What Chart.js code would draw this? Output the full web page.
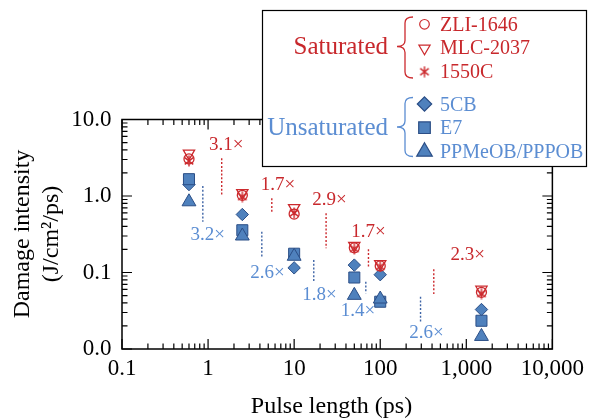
<!DOCTYPE html>
<html><head><meta charset="utf-8">
<script src="https://cdn.jsdelivr.net/npm/chart.js@4.4.1/dist/chart.umd.min.js"></script>
<style>html,body{margin:0;padding:0;background:#fff;}#wrap{position:relative;width:590px;height:418px;}</style>
</head><body><div id="wrap"><canvas id="c" width="590" height="418"></canvas></div>
<script>
// ---- data ----
const pulseLengths = [0.6, 2.5, 10, 50, 100, 1500];
const zli1646 = [3.05, 1.02, 0.58, 0.21, 0.122, 0.055];
const mlc2037 = [3.6, 1.1, 0.70, 0.225, 0.13, 0.06];
const c1550   = [2.87, 0.98, 0.60, 0.205, 0.12, 0.053];
const cb5     = [1.41, 0.573, 0.115, 0.125, 0.0936, 0.0328];
const e7      = [1.66, 0.357, 0.176, 0.086, 0.0415, 0.0234];
const ppmeob  = [0.84, 0.30, 0.163, 0.0503, 0.045, 0.0146];

const xTickValues = [0.1, 1, 10, 100, 1000, 10000];
const xTickLabels = ['0.1', '1', '10', '100', '1,000', '10,000'];
const yTickValues = [0.01, 0.1, 1, 10];
const yTickLabels = ['0.0', '0.1', '1.0', '10.0'];
const minorMantissas = [2, 3, 4, 5, 6, 7, 8, 9];

// ratio annotations (data coordinates)
const ratioText   = ['3.1×', '1.7×', '2.9×', '1.7×', '2.3×', '3.2×', '2.6×', '1.8×', '1.4×', '2.6×'];
const ratioGroup  = ['sat', 'sat', 'sat', 'sat', 'sat', 'unsat', 'unsat', 'unsat', 'unsat', 'unsat'];
const ratioTextX  = [1.62, 6.5, 25.7, 73, 1038, 0.99, 4.89, 19.7, 55, 344];
const ratioTextY  = [4.64, 1.39, 0.887, 0.341, 0.169, 0.309, 0.0977, 0.0508, 0.0317, 0.016];
const ratioLineX  = [1.44, 5.5, 23.5, 73, 419, 0.869, 4.21, 16.9, 68, 294];
const ratioLineY1 = [3.11, 0.933, 0.594, 0.201, 0.110, 1.35, 0.341, 0.146, 0.0758, 0.0483];
const ratioLineY2 = [1.03, 0.594, 0.207, 0.119, 0.0524, 0.461, 0.158, 0.0758, 0.0535, 0.0228];

const groupNames = ['Saturated', 'Unsaturated'];
const saturatedNames = ['ZLI-1646', 'MLC-2037', '1550C'];
const unsaturatedNames = ['5CB', 'E7', 'PPMeOB/PPPOB'];

// ---- styles ----
const RED = '#cc2a2e';
const RED_TEXT = '#c8282c';
const BLUE_FILL = '#4f81bd';
const BLUE_EDGE = '#2b4e86';
const BLUE_TEXT = '#5b8dd2';
const BLUE_DOT = '#3e64a6';
const FONT = "'Liberation Serif', 'Times New Roman', serif";

function makeAsterisk(size, color, lw) {
  const c = document.createElement('canvas');
  c.width = c.height = size;
  const g = c.getContext('2d');
  g.strokeStyle = color; g.lineWidth = lw;
  const r = size / 2 - 0.6, cx = size / 2;
  g.beginPath();
  for (const a of [90, 38, 142]) {
    const rad = a * Math.PI / 180;
    g.moveTo(cx - r * Math.cos(rad), cx - r * Math.sin(rad));
    g.lineTo(cx + r * Math.cos(rad), cx + r * Math.sin(rad));
  }
  g.stroke();
  return c;
}
const starImg = makeAsterisk(12, RED, 1.4);

function pts(ys) { return pulseLengths.map((x, i) => ({ x: x, y: ys[i] })); }

const datasets = [
  { label: 'ZLI-1646', data: pts(zli1646), pointStyle: 'circle', pointRadius: 5, borderColor: RED, backgroundColor: 'rgba(0,0,0,0)', borderWidth: 1.3 },
  { label: 'MLC-2037', data: pts(mlc2037), pointStyle: 'triangle', rotation: 180, pointRadius: 6.5, borderColor: RED, backgroundColor: 'rgba(0,0,0,0)', borderWidth: 1.3 },
  { label: '1550C', data: pts(c1550), pointStyle: starImg, pointRadius: 6, borderColor: RED, backgroundColor: RED },
  { label: 'PPMeOB/PPPOB', data: pts(ppmeob), pointStyle: 'triangle', pointRadius: 8, borderColor: BLUE_EDGE, backgroundColor: BLUE_FILL, borderWidth: 1 },
  { label: 'E7', data: pts(e7), pointStyle: 'rect', pointRadius: 7.8, borderColor: BLUE_EDGE, backgroundColor: BLUE_FILL, borderWidth: 1 },
  { label: '5CB', data: pts(cb5), pointStyle: 'rectRot', pointRadius: 6.2, borderColor: BLUE_EDGE, backgroundColor: BLUE_FILL, borderWidth: 1 }
];
datasets.forEach(d => { d.showLine = false; d.pointHoverRadius = d.pointRadius; });

function drawMarker(ctx, style, x, y, r, stroke, fill, rot) {
  ctx.save();
  ctx.translate(x, y);
  if (rot) ctx.rotate(rot * Math.PI / 180);
  ctx.beginPath();
  if (style === 'circle') ctx.arc(0, 0, r, 0, Math.PI * 2);
  else if (style === 'triangle') {
    for (let k = 0; k < 3; k++) {
      const a = k * 2 * Math.PI / 3;
      const px = Math.sin(a) * r, py = -Math.cos(a) * r;
      if (k === 0) ctx.moveTo(px, py); else ctx.lineTo(px, py);
    }
    ctx.closePath();
  } else if (style === 'rect') {
    const s = r * Math.SQRT1_2; ctx.rect(-s, -s, 2 * s, 2 * s);
  } else if (style === 'rectRot') {
    ctx.moveTo(0, -r); ctx.lineTo(r, 0); ctx.lineTo(0, r); ctx.lineTo(-r, 0); ctx.closePath();
  }
  if (fill) { ctx.fillStyle = fill; ctx.fill(); }
  ctx.strokeStyle = stroke; ctx.lineWidth = 1.2; ctx.stroke();
  ctx.restore();
}

function brace(ctx, xTip, xSpine, xEnd, yTop, yMid, yBot, color) {
  const r = 6;
  ctx.save();
  ctx.strokeStyle = color; ctx.lineWidth = 1.3;
  ctx.beginPath();
  ctx.moveTo(xEnd, yTop);
  ctx.quadraticCurveTo(xSpine, yTop, xSpine, yTop + r);
  ctx.lineTo(xSpine, yMid - r);
  ctx.quadraticCurveTo(xSpine, yMid, xTip, yMid);
  ctx.quadraticCurveTo(xSpine, yMid, xSpine, yMid + r);
  ctx.lineTo(xSpine, yBot - r);
  ctx.quadraticCurveTo(xSpine, yBot, xEnd, yBot);
  ctx.stroke();
  ctx.restore();
}

const decor = {
  id: 'decor',
  beforeDatasetsDraw(chart) {
    const ctx = chart.ctx, xs = chart.scales.x, ys = chart.scales.y;
    const a = chart.chartArea;
    ctx.save();
    // frame
    ctx.strokeStyle = '#000'; ctx.lineWidth = 1.5;
    ctx.strokeRect(a.left, a.top, a.right - a.left, a.bottom - a.top);
    // ticks
    ctx.lineWidth = 1.2;
    ctx.beginPath();
    const xMaj = 10, xMin = 5.5;
    xTickValues.forEach((v, i) => {
      const px = xs.getPixelForValue(v);
      ctx.moveTo(px, a.bottom); ctx.lineTo(px, a.bottom - xMaj);
      ctx.moveTo(px, a.top); ctx.lineTo(px, a.top + xMaj);
      if (i < xTickValues.length - 1) minorMantissas.forEach(m => {
        const q = xs.getPixelForValue(m * v);
        ctx.moveTo(q, a.bottom); ctx.lineTo(q, a.bottom - xMin);
        ctx.moveTo(q, a.top); ctx.lineTo(q, a.top + xMin);
      });
    });
    yTickValues.forEach((v, i) => {
      const py = ys.getPixelForValue(v);
      ctx.moveTo(a.left, py); ctx.lineTo(a.left + xMaj, py);
      ctx.moveTo(a.right, py); ctx.lineTo(a.right - xMaj, py);
      if (i < yTickValues.length - 1) minorMantissas.forEach(m => {
        const q = ys.getPixelForValue(m * v);
        ctx.moveTo(a.left, q); ctx.lineTo(a.left + xMin, q);
        ctx.moveTo(a.right, q); ctx.lineTo(a.right - xMin, q);
      });
    });
    ctx.stroke();
    // ratio annotations
    ratioText.forEach((t, i) => {
      const sat = ratioGroup[i] === 'sat';
      const lx = xs.getPixelForValue(ratioLineX[i]);
      ctx.save();
      ctx.setLineDash([2, 1.8]);
      ctx.lineWidth = 1.4;
      ctx.strokeStyle = sat ? RED : BLUE_DOT;
      ctx.beginPath();
      ctx.moveTo(lx, ys.getPixelForValue(ratioLineY1[i]));
      ctx.lineTo(lx, ys.getPixelForValue(ratioLineY2[i]));
      ctx.stroke();
      ctx.restore();
      ctx.fillStyle = sat ? RED_TEXT : BLUE_TEXT;
      ctx.font = '19px ' + FONT;
      ctx.textAlign = 'center'; ctx.textBaseline = 'middle';
      ctx.fillText(t, xs.getPixelForValue(ratioTextX[i]), ys.getPixelForValue(ratioTextY[i]));
    });
    ctx.restore();
  },
  afterDraw(chart) {
    const ctx = chart.ctx;
    ctx.save();
    // axis titles
    ctx.fillStyle = '#000';
    ctx.font = '24px ' + FONT;
    ctx.textAlign = 'center'; ctx.textBaseline = 'alphabetic';
    ctx.fillText('Pulse length (ps)', 331.5, 413);
    ctx.save();
    ctx.translate(29.3, 234); ctx.rotate(-Math.PI / 2);
    ctx.fillText('Damage intensity', 0, 0);
    ctx.restore();
    ctx.save();
    ctx.translate(58, 234); ctx.rotate(-Math.PI / 2);
    ctx.fillText('(J/cm²/ps)', 0, 0);
    ctx.restore();

    // legend box
    ctx.fillStyle = '#fff';
    ctx.fillRect(262.5, 10.5, 324, 156);
    ctx.strokeStyle = '#000'; ctx.lineWidth = 1.2;
    ctx.strokeRect(262.5, 10.5, 324, 156);

    ctx.textBaseline = 'alphabetic';
    ctx.textAlign = 'right';
    ctx.font = '25px ' + FONT;
    ctx.fillStyle = RED_TEXT;
    ctx.fillText(groupNames[0], 388, 54);
    ctx.fillStyle = BLUE_TEXT;
    ctx.fillText(groupNames[1], 388, 135);

    brace(ctx, 397, 405, 413, 17, 46.5, 78, RED);
    brace(ctx, 397, 405, 413, 97.5, 127, 156.5, BLUE_TEXT);

    ctx.textAlign = 'left';
    ctx.font = '20px ' + FONT;
    const satY = [30.7, 54, 78.3], satMY = [24.3, 48.3, 71.7];
    const unY = [110.7, 134, 158.3], unMY = [104, 127.7, 151.7];
    saturatedNames.forEach((n, i) => { ctx.fillStyle = RED_TEXT; ctx.fillText(n, 440, satY[i]); });
    unsaturatedNames.forEach((n, i) => { ctx.fillStyle = BLUE_TEXT; ctx.fillText(n, 440, unY[i]); });
    drawMarker(ctx, 'circle', 424.5, satMY[0], 4.8, RED, null, 0);
    drawMarker(ctx, 'triangle', 424.5, satMY[1], 6.5, RED, null, 180);
    ctx.drawImage(starImg, 424.5 - starImg.width / 2, satMY[2] - starImg.height / 2);
    drawMarker(ctx, 'rectRot', 424.5, unMY[0], 7.2, BLUE_EDGE, BLUE_FILL, 0);
    drawMarker(ctx, 'rect', 424.5, unMY[1], 8.2, BLUE_EDGE, BLUE_FILL, 0);
    drawMarker(ctx, 'triangle', 424.5, unMY[2], 9, BLUE_EDGE, BLUE_FILL, 0);
    ctx.restore();
  }
};

new Chart(document.getElementById('c'), {
  type: 'scatter',
  data: { datasets: datasets },
  options: {
    responsive: false,
    animation: false,
    events: [],
    layout: { padding: { top: 119.5, right: 35, left: 0, bottom: 0 } },
    plugins: { legend: { display: false }, tooltip: { enabled: false }, title: { display: false } },
    scales: {
      x: {
        type: 'logarithmic', position: 'bottom', min: 0.1, max: 10000,
        grid: { display: false, drawTicks: false }, border: { display: false },
        afterBuildTicks: s => { s.ticks = xTickValues.map(v => ({ value: v })); },
        afterFit: s => { s.height = 69; },
        ticks: {
          autoSkip: false, maxRotation: 0, padding: 6, color: '#000',
          font: { family: FONT, size: 23 },
          callback: v => { const i = xTickValues.indexOf(v); return i >= 0 ? xTickLabels[i] : null; }
        }
      },
      y: {
        type: 'logarithmic', position: 'left', min: 0.01, max: 10,
        grid: { display: false, drawTicks: false }, border: { display: false },
        afterBuildTicks: s => { s.ticks = yTickValues.map(v => ({ value: v })); },
        afterFit: s => { s.width = 122; },
        ticks: {
          autoSkip: false, padding: 10.5, color: '#000',
          font: { family: FONT, size: 23 },
          callback: v => { const i = yTickValues.indexOf(v); return i >= 0 ? yTickLabels[i] : null; }
        }
      }
    }
  },
  plugins: [decor]
});
</script>
</body></html>
